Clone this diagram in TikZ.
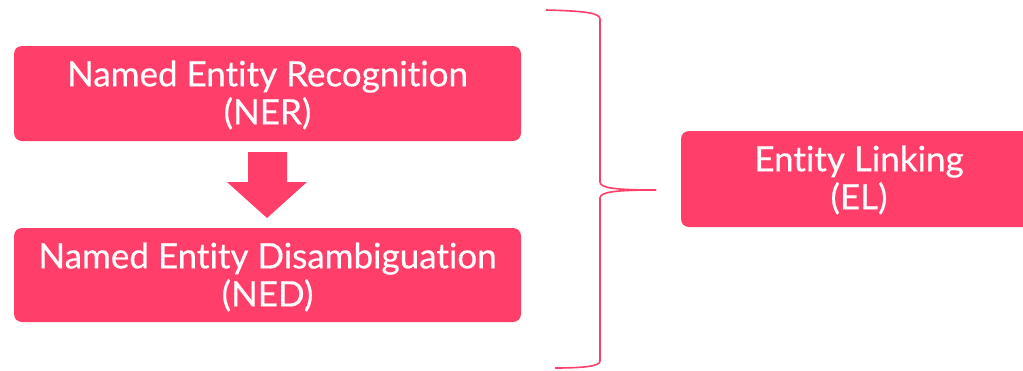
\documentclass[tikz,border=0pt]{standalone}
\usepackage{fontspec}
\setmainfont{Lato}
\newfontfamily\boxfont[FakeBold=0.4,Ligatures={NoCommon,NoContextual}]{Lato}
\definecolor{pinkred}{HTML}{FF3F6A}
\begin{document}
\begin{tikzpicture}[x=1pt,y=-1pt,
  boxtext/.style={align=center, text=white, font=\boxfont\fontsize{35}{38}\selectfont, inner sep=0pt},
  boxfill/.style={fill=pinkred, rounded corners=8pt},
  bracepath/.style={draw=pinkred, line width=1.6pt}]
\useasboundingbox (0,0) rectangle (1023,370);
\fill[boxfill] (14,46) rectangle (521,141);
\node[boxtext] (ner) at (267.5,95) {Named Entity Recognition\\(NER)};
\fill[boxfill] (14,228) rectangle (521,322);
\node[boxtext] (ned) at (267.5,277) {Named Entity Disambiguation\\(NED)};
\fill[boxfill] (681,131) rectangle (1040,227);
\node[boxtext] (el) at (859,180) {Entity Linking\\(EL)};
\fill[pinkred] (248,152) -- (287,152) -- (287,182) -- (307,182) -- (267,218) -- (227,182) -- (248,182) -- cycle;
\coordinate (btop) at (546,10);
\coordinate (btip) at (656,190);
\coordinate (bbot) at (555,368);
\draw[bracepath] (btop) .. controls (585,11) and (600,13) .. (600,19) -- (600,182)
  .. controls (600,188) and (615,190) .. (btip);
\draw[bracepath] (btip) .. controls (615,190) and (600,192) .. (600,198) -- (600,361)
  .. controls (600,366) and (585,368) .. (bbot);
\end{tikzpicture}
\end{document}
